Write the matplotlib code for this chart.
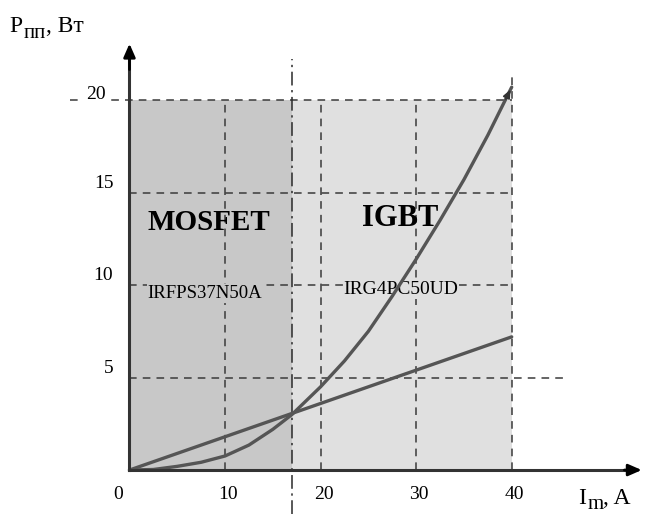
import numpy as np
import matplotlib
matplotlib.use("Agg")
import matplotlib.pyplot as plt

# current, A
current = [0, 2.5, 5, 7.5, 10, 12.5, 15, 17, 20, 22.5, 25, 27.5, 30, 32.5, 35, 37.5, 40]
# MOSFET losses (grows ~ I^2), W
p_mosfet = [0, 0.03, 0.2, 0.42, 0.76, 1.35, 2.2, 3.0, 4.5, 5.9, 7.5, 9.4, 11.4, 13.5, 15.7, 18.1, 20.7]
# IGBT losses (linear), W
igbt_current = [0, 40]
p_igbt = [0, 7.2]

x_ticks = [0, 10, 20, 30, 40]
y_ticks = [5, 10, 15, 20]
boundary = 17  # MOSFET / IGBT crossover current

fig = plt.figure(figsize=(6.45, 5.15), dpi=100)
ax = fig.add_axes([0, 0, 1, 1])
ax.set_xlim(-13.55, 53.95)
ax.set_ylim(-2.43, 25.41)
ax.axis("off")

serif = "Liberation Serif"
curve_color = "#555555"
grid_kw = dict(color="#3a3a3a", lw=1.1, ls=(0, (5, 4)), zorder=2)

# shaded regions
ax.fill_between([0, boundary], 0, 20, color="#c8c8c8", lw=0, zorder=1)
ax.fill_between([boundary, 40], 0, 20, color="#e0e0e0", lw=0, zorder=1)

# grid
for xv in [10, 20, 30]:
    ax.plot([xv, xv], [0, 20], **grid_kw)
ax.plot([40, 40], [0, 21.4], **grid_kw)
ax.plot([-6.2, 40], [20, 20], **grid_kw)
ax.plot([0, 40], [15, 15], **grid_kw)
ax.plot([0, 40], [10, 10], **grid_kw)
ax.plot([0, 46], [5, 5], **grid_kw)
ax.plot([boundary, boundary], [-2.4, 22.2], color="#2a2a2a", lw=1.1,
        ls=(0, (9, 3, 1.5, 3)), zorder=2)

# curves
ax.plot(current, p_mosfet, color=curve_color, lw=2.4, zorder=4,
        solid_capstyle="round", solid_joinstyle="round")
ax.plot(igbt_current, p_igbt, color=curve_color, lw=2.4, zorder=4,
        solid_capstyle="round")
# small arrowhead at the end of the MOSFET curve
x1, y1 = current[-1], p_mosfet[-1]
x0, y0 = current[-2], p_mosfet[-2]
ax.annotate("", xy=(x1, y1), xytext=(x1 - 0.3 * (x1 - x0), y1 - 0.3 * (y1 - y0)),
            arrowprops=dict(arrowstyle="-|>,head_length=0.5,head_width=0.22",
                            color="#333333", lw=1.2), zorder=5)

# axes with arrows
ax.plot([0, 0], [0, 22.5], color="#333333", lw=2.2, zorder=5)
ax.plot([0, 52.5], [0, 0], color="#333333", lw=2.2, zorder=5)
ax.annotate("", xy=(0, 23.2), xytext=(0, 21.5),
            arrowprops=dict(arrowstyle="-|>,head_length=0.8,head_width=0.35",
                            color="black", lw=2), zorder=6)
ax.annotate("", xy=(53.9, 0), xytext=(51.5, 0),
            arrowprops=dict(arrowstyle="-|>,head_length=0.8,head_width=0.35",
                            color="black", lw=2), zorder=6)

# tick labels
for xv in x_ticks:
    xpos = -1.2 if xv == 0 else xv + 0.3
    ax.text(xpos, -1.3, str(xv), fontsize=14, family=serif,
            ha="center", va="center")
for yv in y_ticks:
    if yv == 20:
        ax.text(-3.5, yv + 0.3, str(yv), fontsize=14, family=serif,
                ha="center", va="center", zorder=3,
                bbox=dict(facecolor="white", edgecolor="none", pad=2))
    else:
        ax.text(-1.7, yv + 0.5, str(yv), fontsize=14, family=serif,
                ha="right", va="center")


def subscript_label(x, y, main, sub, tail, size=17, sub_size=15):
    # main letter, lowered subscript, then the rest back on the main baseline
    t1 = ax.text(x, y, main, fontsize=size, family=serif, ha="left", va="bottom")
    t2 = ax.annotate(sub, xy=(1, 0), xycoords=t1, xytext=(0.5, -4),
                     textcoords="offset points", fontsize=sub_size, family=serif,
                     ha="left", va="bottom")
    ax.annotate(tail, xy=(1, 0), xycoords=(t2, t1), xytext=(0, 0),
                textcoords="offset points", fontsize=size, family=serif,
                ha="left", va="bottom")


# axis labels
subscript_label(-12.55, 23.4, "P", "пп", ", Вт")
subscript_label(47.0, -2.1, "I", "m", ", A")

# region labels
ax.text(8.3, 13.4, "MOSFET", fontsize=21, family=serif, weight="bold",
        ha="center", va="center", zorder=3)
ax.text(28.3, 13.6, "IGBT", fontsize=22, family=serif, weight="bold",
        ha="center", va="center", zorder=3)
ax.text(7.9, 9.55, "IRFPS37N50A", fontsize=13.5, family=serif,
        ha="center", va="center", zorder=3,
        bbox=dict(facecolor="#c8c8c8", edgecolor="none", pad=0.5))
ax.text(28.4, 9.75, "IRG4PC50UD", fontsize=14, family=serif,
        ha="center", va="center", zorder=3,
        bbox=dict(facecolor="#e0e0e0", edgecolor="none", pad=0.5))

fig.savefig("out.png", dpi=100)
